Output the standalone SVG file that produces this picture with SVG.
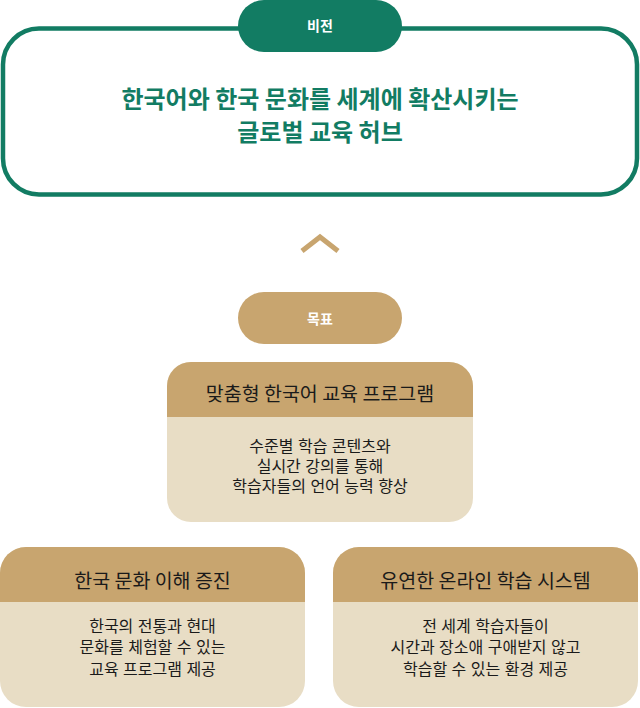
<svg xmlns="http://www.w3.org/2000/svg" width="640" height="708" viewBox="0 0 640 708">
<defs>
<style>
text{font-family:"Noto Sans CJK KR","Noto Sans",sans-serif;text-anchor:middle;dominant-baseline:central}
.green{fill:#127c63}
.gold{fill:#c8a56f}
.beige{fill:#e8ddc5}
.pilltxt{fill:#ffffff;font-size:14px;font-weight:bold}
.vision{fill:#127c63;font-size:24px;font-weight:bold}
.title{fill:#1a1a1a;font-size:19.5px}
.body{fill:#1a1a1a;font-size:16px;font-family:"Liberation Sans","Noto Sans CJK KR",sans-serif}
</style>
<clipPath id="c1"><rect x="167" y="362" width="306" height="160" rx="24"/></clipPath>
<clipPath id="c2"><rect x="0" y="547" width="305" height="160" rx="26"/></clipPath>
<clipPath id="c3"><rect x="333" y="547" width="305" height="160" rx="26"/></clipPath>
</defs>
<g id="vision">
<rect x="3" y="28.5" width="634" height="166" rx="36" fill="#ffffff" stroke="#127c63" stroke-width="4.5"/>
<rect x="238" y="0" width="164" height="52" rx="26" class="green"/>
<text x="320" y="25" class="pilltxt">비전</text>
<text x="320" y="97" class="vision">한국어와 한국 문화를 세계에 확산시키는</text>
<text x="320" y="130" class="vision">글로벌 교육 허브</text>
</g>
<g id="connectors">
<polyline points="302,251 320,237 338,251" fill="none" stroke="#c8a56f" stroke-width="5"/>
</g>
<g id="goal">
<rect x="238" y="292" width="164" height="52" rx="26" class="gold"/>
<text x="320" y="318" class="pilltxt">목표</text>
</g>
<g id="card1" clip-path="url(#c1)">
<rect x="167" y="362" width="306" height="160" class="beige"/>
<rect x="167" y="362" width="306" height="55" class="gold"/>
<text x="320" y="392" class="title">맞춤형 한국어 교육 프로그램</text>
<text x="320" y="446" class="body">수준별 학습 콘텐츠와</text>
<text x="320" y="466" class="body">실시간 강의를 통해</text>
<text x="320" y="486" class="body">학습자들의 언어 능력 향상</text>
</g>
<g id="card2" clip-path="url(#c2)">
<rect x="0" y="547" width="305" height="160" class="beige"/>
<rect x="0" y="547" width="305" height="55" class="gold"/>
<text x="152.5" y="579" class="title">한국 문화 이해 증진</text>
<text x="152.5" y="626" class="body">한국의 전통과 현대</text>
<text x="152.5" y="647.5" class="body">문화를 체험할 수 있는</text>
<text x="152.5" y="669" class="body">교육 프로그램 제공</text>
</g>
<g id="card3" clip-path="url(#c3)">
<rect x="333" y="547" width="305" height="160" class="beige"/>
<rect x="333" y="547" width="305" height="55" class="gold"/>
<text x="485.5" y="579" class="title">유연한 온라인 학습 시스템</text>
<text x="485.5" y="626" class="body">전 세계 학습자들이</text>
<text x="485.5" y="647.5" class="body">시간과 장소애 구애받지 않고</text>
<text x="485.5" y="669" class="body">학습할 수 있는 환경 제공</text>
</g>
</svg>
